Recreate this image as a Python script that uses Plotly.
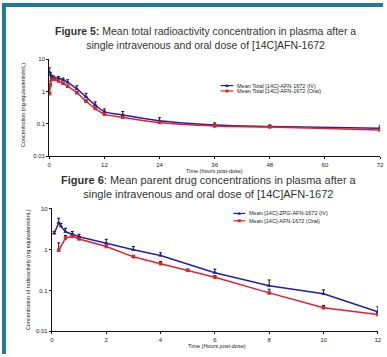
import plotly.graph_objects as go

# ---- Figure 5: total radioactivity (0-72 h) ----
t_total = [0.083, 0.25, 0.5, 1, 2, 3, 4, 6, 8, 10, 12, 16, 24, 36, 48, 72]
iv_total = [3.9, 3.2, 2.9, 2.7, 2.55, 2.3, 1.9, 1.2, 0.68, 0.38, 0.24, 0.19, 0.125, 0.093, 0.083, 0.073]
iv_total_err = [1.5, 0.6, 0.3, 0.3, 0.35, 0.3, 0.4, 0.3, 0.2, 0.1, 0.05, 0.05, 0.03, 0.015, 0.01, 0.015]
oral_total = [0.85, 1.6, 2.4, 2.4, 2.1, 1.8, 1.45, 0.92, 0.5, 0.3, 0.2, 0.16, 0.11, 0.086, 0.08, 0.065]
oral_total_err = [0.6, 0.5, 0.3, 0.2, 0.2, 0.15, 0.1, 0.08, 0.05, 0.03, 0.02, 0.02, 0.01, 0.01, 0.008, 0.008]

# ---- Figure 6: parent drug (0-12 h) ----
t_parent_iv = [0.083, 0.25, 0.33, 0.5, 0.75, 1, 2, 3, 4, 6, 8, 10, 12]
iv_parent = [2.45, 4.5, 3.7, 2.7, 2.35, 2.05, 1.42, 0.98, 0.71, 0.27, 0.13, 0.083, 0.030]
iv_parent_err = [0.3, 1.3, 0.6, 0.6, 0.4, 0.3, 0.35, 0.2, 0.12, 0.06, 0.05, 0.02, 0.01]
t_parent_oral = [0.25, 0.5, 0.75, 1, 2, 3, 4, 5, 6, 8, 10, 12]
oral_parent = [0.95, 1.9, 2.1, 1.8, 1.18, 0.66, 0.45, 0.31, 0.21, 0.087, 0.038, 0.026]
oral_parent_err = [0.5, 0.3, 0.3, 0.2, 0.1, 0.06, 0.06, 0.02, 0.02, 0.02, 0.005, 0.003]

y_ticks = [0.01, 0.1, 1, 10]
y_tick_text = ["0.01", "0.1", "1", "10"]
x_ticks_total = [0, 12, 24, 36, 48, 60, 72]
x_ticks_parent = [0, 2, 4, 6, 8, 10, 12]

legend_total = ["Mean Total [14C]-AFN-1672 (IV)", "Mean Total [14C]-AFN-1672 (Oral)"]
legend_parent = ["Mean [14C]-ZPG-AFN-1672 (IV)", "Mean [14C]-AFN-1672 (Oral)"]

W, H = 387, 357
BLUE = "#1f22a8"
RED = "#e3202e"
TEAL = "#1b7c9a"


def px(x):
    return x / W


def py(y):
    return 1 - y / H


def err(vals):
    return dict(type="data", symmetric=False, array=vals,
                arrayminus=[0] * len(vals), color="#111", thickness=1, width=1.5)


fig = go.Figure()

fig.add_trace(go.Scatter(
    x=t_total, y=iv_total, name=legend_total[0],
    mode="lines+markers", line=dict(color=BLUE, width=1.5, shape="spline"),
    marker=dict(symbol="triangle-up", size=4, color=BLUE),
    error_y=err(iv_total_err), xaxis="x", yaxis="y"))
fig.add_trace(go.Scatter(
    x=t_total, y=oral_total, name=legend_total[1],
    mode="lines+markers", line=dict(color=RED, width=1.5, shape="spline"),
    marker=dict(symbol="square", size=3.5, color=RED),
    error_y=err(oral_total_err), xaxis="x", yaxis="y"))

fig.add_trace(go.Scatter(
    x=t_parent_iv, y=iv_parent, name=legend_parent[0],
    mode="lines+markers", line=dict(color=BLUE, width=1.5),
    marker=dict(symbol="triangle-up", size=4, color=BLUE),
    error_y=err(iv_parent_err), xaxis="x2", yaxis="y2"))
fig.add_trace(go.Scatter(
    x=t_parent_oral, y=oral_parent, name=legend_parent[1],
    mode="lines+markers", line=dict(color=RED, width=1.5),
    marker=dict(symbol="square", size=3.5, color=RED),
    error_y=err(oral_parent_err), xaxis="x2", yaxis="y2"))

tick_font = dict(family="Arial", size=6, color="#222")
axis_common = dict(showline=True, linecolor="#111", linewidth=1, ticks="outside",
                   ticklen=2, tickcolor="#111", tickwidth=1, showgrid=False,
                   zeroline=False, tickfont=tick_font)

shapes = [
    dict(type="rect", xref="paper", yref="paper", x0=0, x1=px(4), y0=0, y1=1,
         fillcolor=TEAL, line=dict(width=0), layer="above"),
    dict(type="rect", xref="paper", yref="paper", x0=0, x1=1, y0=py(4), y1=1,
         fillcolor=TEAL, line=dict(width=0), layer="above"),
]

small = dict(family="Arial", size=5.5, color="#222")
annotations = []


def legend_block(x0, x1, ys, labels):
    """Compact two-entry key: line sample with marker plus label."""
    for (yy, label, color, sym) in zip(ys, labels, [BLUE, RED], ["tri", "sq"]):
        shapes.append(dict(type="line", xref="paper", yref="paper",
                           x0=px(x0), x1=px(x1), y0=py(yy), y1=py(yy),
                           line=dict(color=color, width=1.2)))
        xm = (x0 + x1) / 2
        if sym == "sq":
            shapes.append(dict(type="rect", xref="paper", yref="paper",
                               x0=px(xm - 1.5), x1=px(xm + 1.5),
                               y0=py(yy + 1.5), y1=py(yy - 1.5),
                               fillcolor=color, line=dict(width=0)))
        else:
            path = (f"M {px(xm - 1.8)},{py(yy + 1.4)} L {px(xm + 1.8)},{py(yy + 1.4)} "
                    f"L {px(xm)},{py(yy - 1.8)} Z")
            shapes.append(dict(type="path", xref="paper", yref="paper", path=path,
                               fillcolor=color, line=dict(width=0)))
        annotations.append(dict(x=px(x1 + 2), y=py(yy), xref="paper", yref="paper",
                                xanchor="left", yanchor="middle", showarrow=False,
                                text=label, font=small))


legend_block(222, 235, [84, 89.5], legend_total)
legend_block(235, 247, [214, 221.5], legend_parent)

annotations += [
    dict(x=px(207), y=py(36), xref="paper", yref="paper", showarrow=False,
         yanchor="middle", align="center",
         text="<b>Figure 5:</b> Mean total radioactivity concentration in plasma after a"
              "<br>single intravenous and oral dose of [14C]AFN-1672",
         font=dict(family="Arial", size=10.5, color="#333")),
    dict(x=px(210), y=py(187), xref="paper", yref="paper", showarrow=False,
         yanchor="middle", align="center",
         text="<b>Figure 6</b>: Mean parent drug concentrations in plasma after a"
              "<br>single intravenous and oral dose of [14C]AFN-1672",
         font=dict(family="Arial", size=11, color="#333")),
    dict(x=px(216), y=py(171), xref="paper", yref="paper", showarrow=False,
         yanchor="middle", text="Time (hours post-dose)", font=small),
    dict(x=px(218), y=py(349), xref="paper", yref="paper", showarrow=False,
         yanchor="middle", text="Time (Hours post-dose)", font=small),
    dict(x=px(17), y=py(104), xref="paper", yref="paper", showarrow=False,
         textangle=-90, yanchor="middle",
         text="Concentration (ng equivalents/mL)", font=small),
    dict(x=px(22), y=py(271), xref="paper", yref="paper", showarrow=False,
         textangle=-90, yanchor="middle",
         text="Concentration of radioactivity (ng equivalents/mL)", font=small),
]

fig.update_layout(
    width=W, height=H, margin=dict(l=0, r=0, t=0, b=0),
    paper_bgcolor="white", plot_bgcolor="white", showlegend=False,
    xaxis=dict(domain=[px(48), px(384)], range=[0, 72], tickvals=x_ticks_total,
               anchor="y", **axis_common),
    yaxis=dict(domain=[py(156), py(57)], type="log", range=[-2, 1],
               tickvals=y_ticks, ticktext=y_tick_text, anchor="x", **axis_common),
    xaxis2=dict(domain=[px(50.7), px(381.7)], range=[0, 12], tickvals=x_ticks_parent,
                anchor="y2", **axis_common),
    yaxis2=dict(domain=[py(334), py(209)], type="log", range=[-2, 1],
                tickvals=y_ticks, ticktext=y_tick_text, anchor="x2", **axis_common),
    shapes=shapes,
    annotations=annotations,
)

fig.write_html("out.html")
